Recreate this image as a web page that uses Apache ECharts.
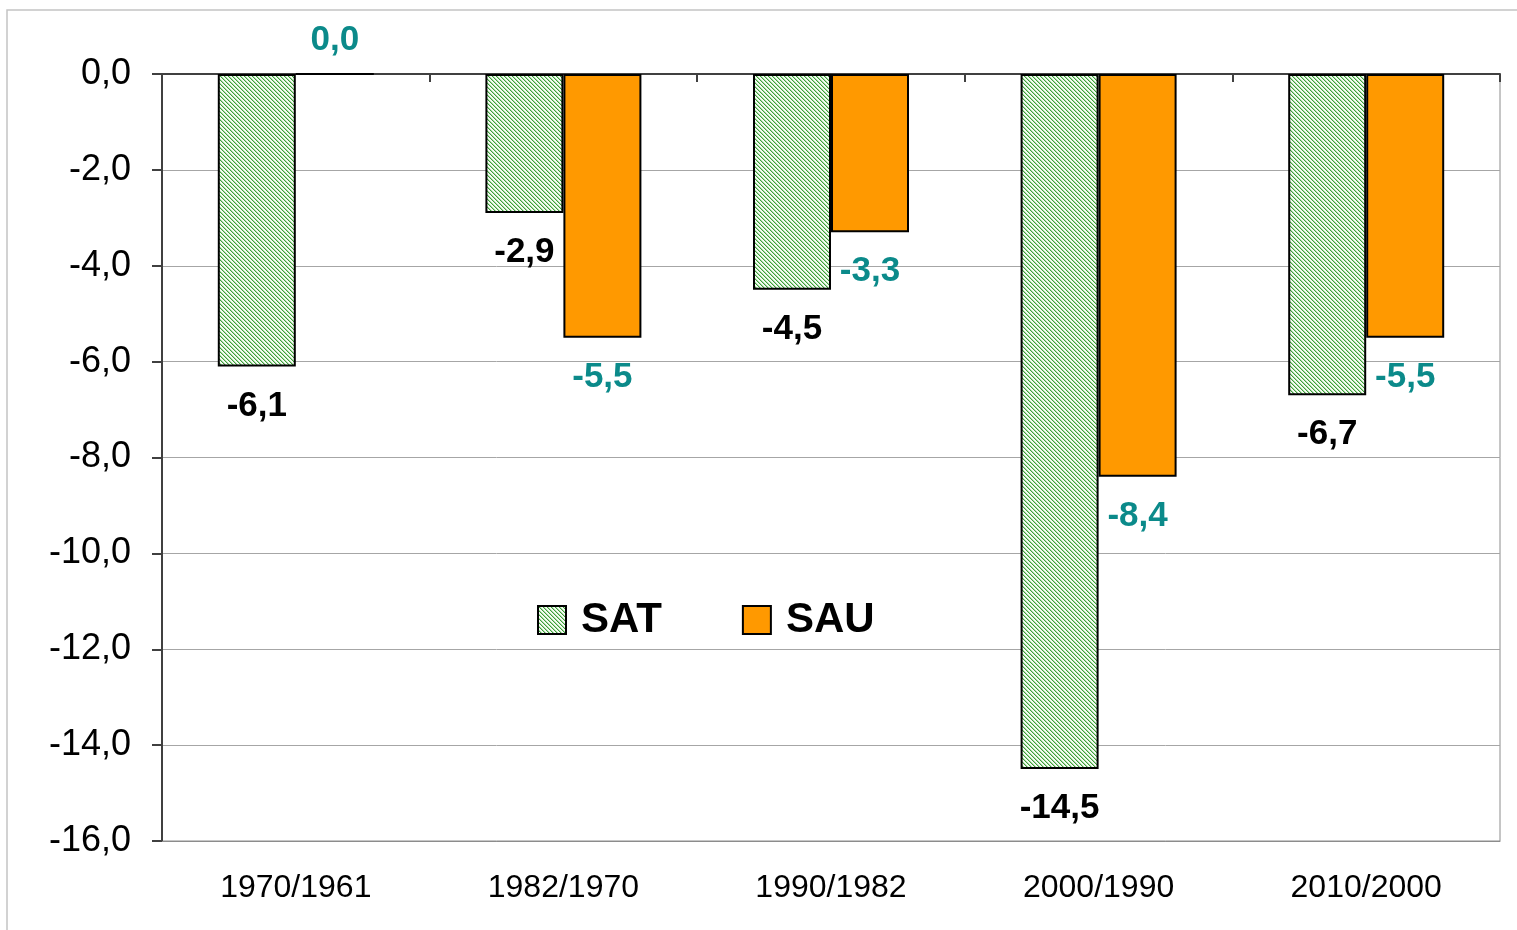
<!DOCTYPE html>
<html>
<head>
<meta charset="utf-8">
<script src="https://cdn.jsdelivr.net/npm/echarts@6/dist/echarts.min.js"></script>
<style>
  html, body { margin: 0; padding: 0; background: #fff; }
  #chart { width: 1517px; height: 930px; }
</style>
</head>
<body>
<div id="chart"></div>
<script>
const categorias = ['1970/1961', '1982/1970', '1990/1982', '2000/1990', '2010/2000'];
const valores_sat = [-6.1, -2.9, -4.5, -14.5, -6.7];
const valores_sau = [0.0, -5.5, -3.3, -8.4, -5.5];
const nombres = ['SAT', 'SAU'];

const FUENTE = "'Liberation Sans', Arial, sans-serif";

function coma(v) {
    return Number(v).toFixed(1).replace('.', ',');
}

// trama diagonal verde para SAT
function trama() {
    const c = document.createElement('canvas');
    c.width = 4; c.height = 4;
    const ctx = c.getContext('2d');
    ctx.fillStyle = '#f5fbf3';
    ctx.fillRect(0, 0, 4, 4);
    for (let i = 0; i < 4; i++) {
        ctx.fillStyle = '#3c9e3a';
        ctx.fillRect(i, i, 1, 1);
        ctx.fillStyle = '#acdca6';
        ctx.fillRect((i + 1) % 4, i, 1, 1);
    }
    return c;
}

const patron = { image: trama(), repeat: 'repeat' };

const etiqueta = function(color) {
    return {
        show: true,
        position: 'bottom',
        distance: 22,
        color: color,
        fontFamily: FUENTE,
        fontWeight: 'bold',
        fontSize: 35,
        formatter: p => coma(p.value)
    };
};

const datos_sau = valores_sau.map(v => v === 0
    ? { value: v, label: { position: 'top', distance: 15 } }
    : v);

let opcion = {
    animation: false,
    backgroundColor: '#fff',
    graphic: [{
        type: 'rect',
        shape: { x: 7, y: 10, width: 1540, height: 960 },
        style: { fill: 'none', stroke: '#c4c4c4', lineWidth: 1.5 },
        silent: true
    }],
    grid: {
        left: 162, right: 17, top: 74, bottom: 89,
        show: true, borderColor: '#8c8c8c', borderWidth: 1
    },
    legend: {
        data: nombres,
        icon: 'rect',
        left: 532, top: 594,
        itemWidth: 28, itemHeight: 28,
        itemGap: 80,
        textStyle: {
            fontFamily: FUENTE, fontWeight: 'bold', fontSize: 42,
            color: '#000', padding: [0, 0, 0, 10]
        }
    },
    xAxis: [{
        type: 'category',
        data: categorias,
        position: 'bottom',
        axisLine: { onZero: false, lineStyle: { color: '#8c8c8c', width: 1 } },
        axisTick: { show: false },
        axisLabel: { fontFamily: FUENTE, fontSize: 32, color: '#000', margin: 31 },
        splitLine: { show: false }
    }, {
        type: 'category',
        data: categorias,
        position: 'top',
        axisLine: { onZero: false, lineStyle: { color: '#404040', width: 2 } },
        axisTick: { show: true, inside: true, length: 8, lineStyle: { color: '#404040', width: 2 } },
        axisLabel: { show: false },
        splitLine: { show: false }
    }],
    yAxis: {
        type: 'value',
        min: -16, max: 0, interval: 2,
        axisLine: { show: true, lineStyle: { color: '#404040', width: 2 } },
        axisTick: { show: true, length: 10, lineStyle: { color: '#404040', width: 2 } },
        axisLabel: { fontFamily: FUENTE, fontSize: 36, color: '#000', margin: 31, formatter: v => coma(v) },
        splitLine: { show: true, lineStyle: { color: '#a6a6a6', width: 1 } }
    },
    series: [{
        name: 'SAT',
        type: 'bar',
        data: valores_sat,
        barWidth: 78,
        barGap: '0%',
        itemStyle: { color: patron, borderColor: '#000', borderWidth: 2 },
        label: etiqueta('#000')
    }, {
        name: 'SAU',
        type: 'bar',
        data: datos_sau,
        barWidth: 78,
        barGap: '0%',
        itemStyle: { color: '#ff9900', borderColor: '#000', borderWidth: 2 },
        label: etiqueta('#0b8a8a')
    }]
};

var myChart = echarts.init(document.getElementById('chart'));
myChart.setOption(opcion);
</script>
</body>
</html>
